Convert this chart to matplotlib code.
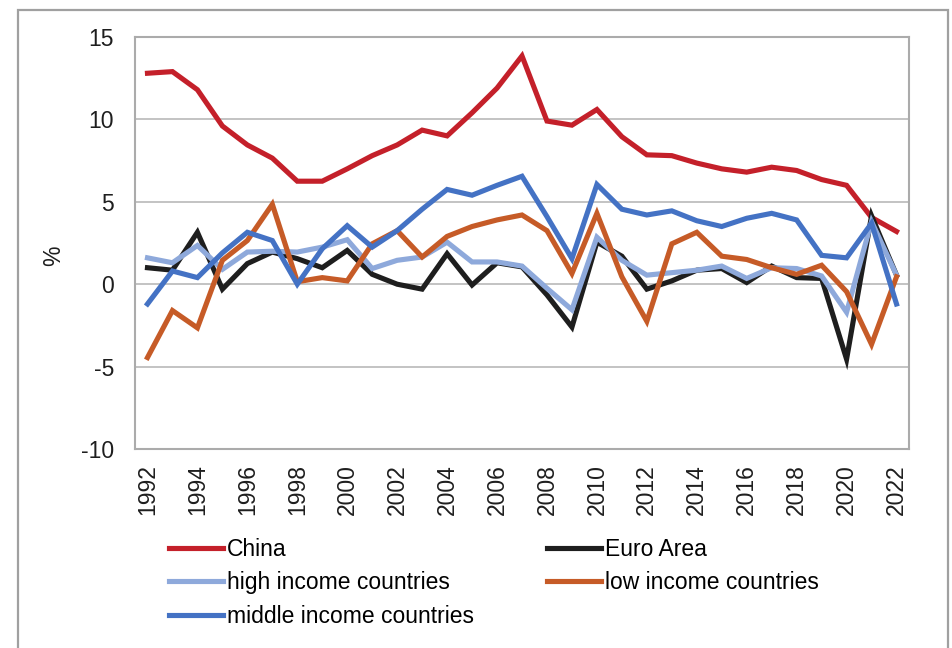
import matplotlib
matplotlib.use("Agg")
import matplotlib.pyplot as plt
from matplotlib.patches import Rectangle
import numpy as np

plt.rcParams["font.family"] = ["Liberation Sans", "DejaVu Sans"]
plt.rcParams["font.size"] = 16.5
plt.rcParams["axes.unicode_minus"] = False

years = list(range(1992, 2023))

china = [12.8, 12.9, 11.8, 9.6, 8.45, 7.65, 6.25, 6.25, 7.0, 7.8, 8.45, 9.35, 9.0, 10.4,
         11.9, 13.85, 9.9, 9.65, 10.6, 8.95, 7.85, 7.8, 7.35, 7.0, 6.8, 7.1, 6.9, 6.35,
         6.0, 4.05, 3.2]
euro_area = [1.0, 0.85, 3.15, -0.3, 1.25, 1.95, 1.55, 1.0, 2.05, 0.6, 0.0, -0.3, 1.85,
             -0.05, 1.3, 1.05, -0.65, -2.6, 2.55, 1.7, -0.3, 0.2, 0.85, 0.95, 0.1, 1.1,
             0.4, 0.35, -4.55, 4.15, 0.55]
high_income = [1.6, 1.3, 2.35, 0.9, 1.95, 2.0, 1.95, 2.25, 2.7, 0.95, 1.45, 1.65, 2.55,
               1.35, 1.35, 1.1, -0.25, -1.55, 2.85, 1.45, 0.55, 0.7, 0.85, 1.1, 0.35,
               1.0, 0.95, 0.5, -1.7, 3.8, 0.55]
low_income = [-4.45, -1.6, -2.65, 1.45, 2.65, 4.85, 0.15, 0.4, 0.2, 2.45, 3.25, 1.65,
              2.9, 3.5, 3.9, 4.2, 3.25, 0.65, 4.3, 0.45, -2.25, 2.45, 3.15, 1.7, 1.5,
              1.0, 0.6, 1.15, -0.45, -3.65, 0.45]
middle_income = [-1.2, 0.8, 0.4, 1.9, 3.15, 2.65, 0.0, 2.15, 3.55, 2.25, 3.25, 4.55,
                 5.75, 5.4, 6.0, 6.55, 4.1, 1.55, 6.05, 4.55, 4.2, 4.45, 3.85, 3.5,
                 4.0, 4.3, 3.9, 1.75, 1.6, 3.7, -1.2]

fig = plt.figure(figsize=(9.53, 6.48), dpi=100)
ax = fig.add_axes([135 / 953, 1 - 449 / 648, 774 / 953, 412 / 648])

lw = 3.7
ax.plot(years, china, color="#C4202A", lw=lw, label="China", solid_joinstyle="miter")
ax.plot(years, euro_area, color="#1E1E1E", lw=lw, label="Euro Area", solid_joinstyle="miter")
ax.plot(years, high_income, color="#8EA9DB", lw=lw, label="high income countries", solid_joinstyle="miter")
ax.plot(years, low_income, color="#C65B27", lw=lw, label="low income countries", solid_joinstyle="miter")
ax.plot(years, middle_income, color="#4472C4", lw=lw, label="middle income countries", solid_joinstyle="miter")

ax.set_xlim(1991.5, 2022.5)
ax.set_ylim(-10, 15)
ax.set_yticks(np.arange(-10, 16, 5))
ax.set_xticks(np.arange(1992, 2023, 2))
ax.tick_params(axis="x", rotation=90, length=0, pad=11, colors="#1E1E1E")
ax.tick_params(axis="y", length=0, pad=15, colors="#1E1E1E")
ax.grid(axis="y", color="#BEBEBE", lw=1.3)
ax.set_axisbelow(True)
for s in ax.spines.values():
    s.set_color("#ABABAB")
    s.set_linewidth(1.5)

ax.set_ylabel("%", color="#1E1E1E")
ax.yaxis.set_label_coords(-0.09, 0.47)

h, l = ax.get_legend_handles_labels()
order = [0, 2, 4, 1, 3]
fig.legend([h[i] for i in order], [l[i] for i in order], ncol=2, frameon=False,
           loc="upper left", bbox_to_anchor=(169 / 953, 1 - 538 / 648),
           borderpad=0, borderaxespad=0, handlelength=2.36, handletextpad=0.17,
           labelspacing=0.45, columnspacing=3.2)

fig.add_artist(Rectangle((18 / 953, -0.1), 930 / 953, 1.1 - 10 / 648,
                         transform=fig.transFigure, fill=False,
                         edgecolor="#A0A0A0", lw=1.6, clip_on=False))

fig.savefig("out.png", dpi=100)
